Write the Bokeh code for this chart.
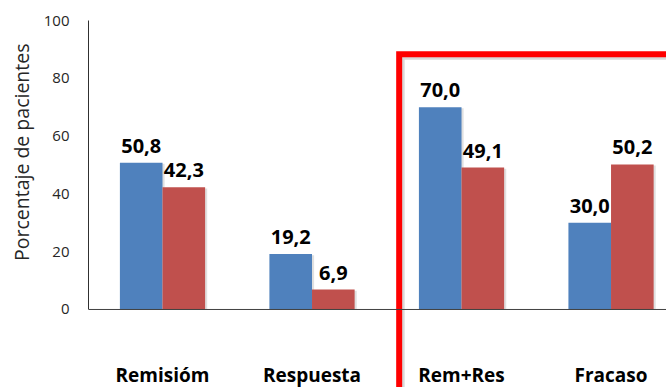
from bokeh.core.properties import value
from bokeh.embed import file_html
from bokeh.models import ColumnDataSource, FixedTicker, Range1d, Span, Title
from bokeh.plotting import figure
from bokeh.resources import INLINE

# Data
categories = ["Remisióm", "Respuesta", "Rem+Res", "Fracaso"]
serie_a = [50.8, 19.2, 70.0, 30.0]
serie_b = [42.3, 6.9, 49.1, 50.2]
y_ticks = [0, 20, 40, 60, 80, 100]
y_title = "Porcentaje de pacientes"

# Styles
BLUE = "#4F81BD"
RED = "#C0504D"
FONT = "Open Sans"
BAR_W = 0.285
HIGHLIGHT_FROM = "Rem+Res"   # the red frame encloses this group and the ones after it
HIGHLIGHT_TOP = 88.3


def fmt(v):
    return f"{v:.1f}".replace(".", ",")


idx = list(range(len(categories)))
src = ColumnDataSource(dict(
    x=idx,
    cat=categories,
    x_a=[i - BAR_W / 2 for i in idx],
    x_b=[i + BAR_W / 2 for i in idx],
    a=serie_a,
    b=serie_b,
    la=[fmt(v) for v in serie_a],
    lb=[fmt(v) for v in serie_b],
))

p = figure(
    width=666, height=387,
    x_range=Range1d(-0.495, 3.371), y_range=Range1d(-27, 100),
    x_axis_type=None,
    output_backend="svg", toolbar_location=None,
    min_border_left=88, min_border_right=0, min_border_top=20, min_border_bottom=0,
)
p.outline_line_color = None
p.ygrid.grid_line_color = None
p.background_fill_color = "white"
p.border_fill_color = "white"

# Y axis (line limited to 0..100)
ax = p.yaxis[0]
ax.bounds = (0, 100)
ax.ticker = FixedTicker(ticks=y_ticks)
ax.major_tick_out = 0
ax.major_tick_in = 0
ax.minor_tick_out = 0
ax.minor_tick_in = 0
ax.major_label_standoff = 19
ax.major_label_text_font = FONT
ax.major_label_text_font_size = "15px"
ax.major_label_text_color = "#262626"
ax.axis_line_color = "#303030"

# Vertical axis title, anchored near the top of the value scale
p.add_layout(Title(
    text=y_title, align="right", offset=23, vertical_align="middle",
    text_font=FONT, text_font_size="19.5px", text_font_style="normal",
    text_color="#262626",
), "left")

# Category baseline
p.add_layout(Span(location=0, dimension="width", line_color="#404040", line_width=1))

# Soft bar shadows
sh = 0.014
p.vbar(x=[v + sh for v in src.data["x_a"]], top=[v - 0.4 for v in serie_a], width=BAR_W,
       fill_color="#000000", fill_alpha=0.12, line_color=None)
p.vbar(x=[v + sh for v in src.data["x_b"]], top=[v - 0.4 for v in serie_b], width=BAR_W,
       fill_color="#000000", fill_alpha=0.12, line_color=None)

# Bars
p.vbar(x="x_a", top="a", width=BAR_W, source=src, fill_color=BLUE, line_color=None)
p.vbar(x="x_b", top="b", width=BAR_W, source=src, fill_color=RED, line_color=None)

# Value labels
lbl = dict(text_align="center", text_baseline="alphabetic", y_offset=-17,
           text_font=value(FONT), text_font_style="bold", text_font_size="20px",
           text_color="black")
p.text(x="x_a", y="a", text="la", source=src, **lbl)
p.text(x="x_b", y="b", text="lb", source=src, **lbl)

# Category labels under the baseline
p.text(x="x", y=0, text="cat", source=src, y_offset=66,
       text_align="center", text_baseline="alphabetic",
       text_font=value(FONT), text_font_style="bold", text_font_size="19px",
       text_color="black")

# Red highlight frame
hx = categories.index(HIGHLIGHT_FROM) - 0.417
frame_x = [hx, hx, 5]
frame_y = [-40, HIGHLIGHT_TOP, HIGHLIGHT_TOP]
p.line(x=[v + 0.02 for v in frame_x], y=[v - 1.0 for v in frame_y],
       line_color="#000000", line_alpha=0.15, line_width=5)
p.line(x=frame_x, y=frame_y, line_color="#FF0000", line_width=6, line_join="miter")

open("out.html", "w").write(file_html(p, INLINE))
